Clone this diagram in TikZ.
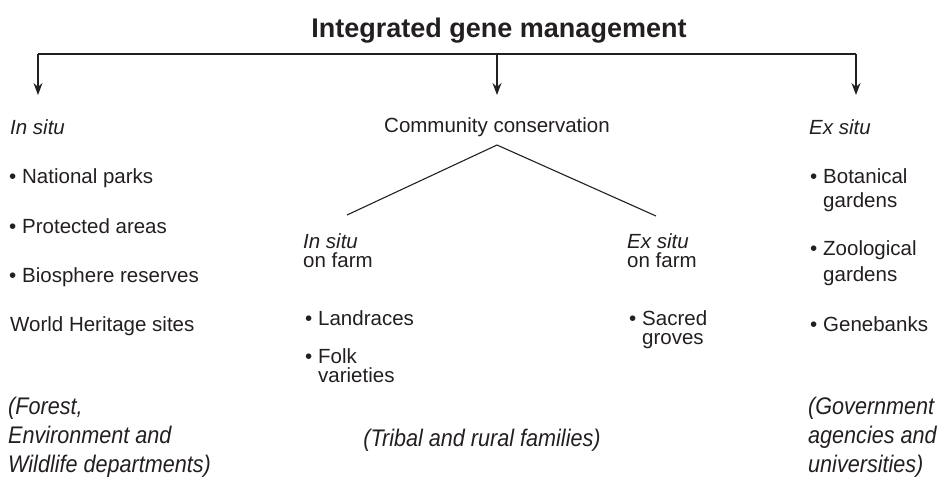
\documentclass[tikz,border=0pt]{standalone}
\usepackage{fontspec}
\setmainfont{Liberation Sans}
\newfontfamily\narrowit[FakeStretch=0.9]{Liberation Sans Italic}
\usetikzlibrary{arrows.meta}
\definecolor{ink}{HTML}{231F20}
\newcommand{\bul}{\makebox[13pt][l]{•}}
\newcommand{\bulgap}{\hspace*{13pt}}
\tikzset{
  lbl/.style={inner sep=0pt, text=ink, font=\fontsize{20.5}{19}\selectfont, align=left},
  titlelbl/.style={inner sep=0pt, text=ink, font=\fontsize{27}{30}\selectfont\bfseries},
  agency/.style={inner sep=0pt, text=ink, font=\fontsize{24}{29}\selectfont\narrowit, align=left},
  bar/.style={draw=ink, line width=1.3pt},
  drop/.style={draw=ink, line width=1.3pt, -{Stealth[length=12pt,width=9pt]}},
  branch/.style={draw=ink, line width=1.1pt}
}
\begin{document}
\begin{tikzpicture}[x=1pt,y=-1pt]
\useasboundingbox (0,0) rectangle (937,480);

% heading and distribution bar
\node[titlelbl, anchor=base] (title) at (499,37) {Integrated gene management};
\coordinate (barL) at (38,54);
\coordinate (barM) at (497,54);
\coordinate (barR) at (856,54);
\coordinate (tipL) at (38,95);
\coordinate (tipM) at (497,95);
\coordinate (tipR) at (856,95);
\draw[bar] (barL) -- (barR);
\draw[drop] (barL) -- (tipL);
\draw[drop] (barM) -- (tipM);
\draw[drop] (barR) -- (tipR);

% in situ column (multi-line nodes are placed by their last baseline)
\node[lbl, anchor=base west] (insitu) at (10,134) {\itshape In situ};
\node[lbl, anchor=base west] (np) at (9,183) {\bul National parks};
\node[lbl, anchor=base west] (pa) at (9,233) {\bul Protected areas};
\node[lbl, anchor=base west] (br) at (9,282) {\bul Biosphere reserves};
\node[lbl, anchor=base west] (wh) at (10,331) {World Heritage sites};

% community conservation
\node[lbl, anchor=base] (cc) at (497,132) {Community conservation};
\coordinate (apex) at (497,145);
\coordinate (legL) at (347,215);
\coordinate (legR) at (656,216);
\draw[branch] (legL) -- (apex) -- (legR);

\node[lbl, anchor=base west] (isof) at (303,267) {\textit{In situ}\\on farm};
\node[lbl, anchor=base west] (esof) at (627,267) {\textit{Ex situ}\\on farm};
\node[lbl, anchor=base west] (lr) at (305,325) {\bul Landraces};
\node[lbl, anchor=base west] (fv) at (305,382) {\bul Folk\\\bulgap varieties};
\node[lbl, anchor=base west] (sg) at (629,344) {\bul Sacred\\\bulgap groves};

% ex situ column
\node[lbl, anchor=base west] (exsitu) at (809,134) {\itshape Ex situ};
\node[lbl, anchor=base west] (bg) at (810,207) {\bul Botanical\\[5pt]\bulgap gardens};
\node[lbl, anchor=base west] (zg) at (810,281) {\bul Zoological\\[5pt]\bulgap gardens};
\node[lbl, anchor=base west] (gb) at (810,331) {\bul Genebanks};

% responsible agencies
\node[agency, anchor=base west] (ag1) at (8,472) {(Forest,\\Environment and\\Wildlife departments)};
\node[agency, anchor=base] (ag2) at (482,446) {(Tribal and rural families)};
\node[agency, anchor=base west] (ag3) at (808,472) {(Government\\agencies and\\universities)};
\end{tikzpicture}
\end{document}
